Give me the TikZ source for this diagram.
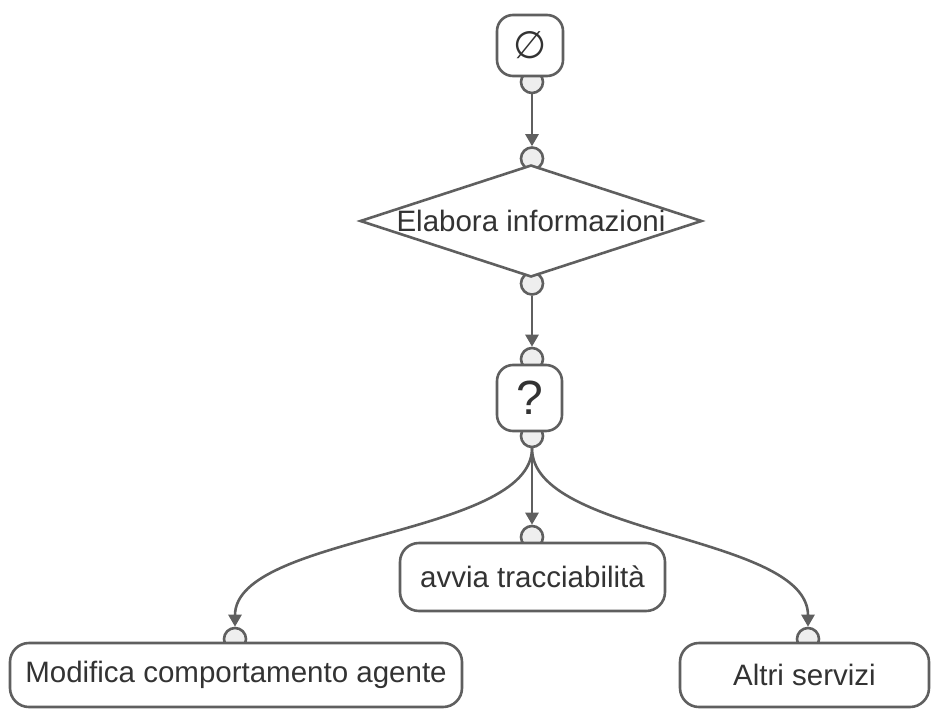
\documentclass[tikz,border=0pt]{standalone}
\usepackage{fontspec}
\setmainfont{Liberation Sans}
\newfontfamily\symfont{DejaVu Sans}
\usetikzlibrary{arrows.meta,shapes.geometric}
\definecolor{edgegray}{HTML}{5F5F5F}
\definecolor{portfill}{HTML}{EEEEEE}
\definecolor{ink}{HTML}{333333}

\begin{document}
\begin{tikzpicture}[x=1pt,y=-1pt,
  labelfont/.style={text=ink, font=\fontsize{29.5}{34}\selectfont},
  box/.style={draw=edgegray, line width=2.6pt, fill=white, rounded corners=19pt,
    inner sep=0pt, labelfont},
  decision/.style={diamond, draw=edgegray, line width=2.6pt, fill=white, inner sep=0pt},
  port/.style={circle, draw=edgegray, fill=portfill, line width=2.6pt,
    minimum size=22pt, inner sep=0pt},
  link/.style={draw=edgegray, line width=2.6pt, -{Triangle[width=13pt,length=12pt]}}
]
\useasboundingbox (0,0) rectangle (931,709);

% connection ports (drawn first, so the shapes partly cover them)
\node[port] (p0) at (532,82) {};
\node[port] (p1) at (532,158.5) {};
\node[port] (p2) at (532,283.5) {};
\node[port] (p3) at (532,359) {};
\node[port] (p4) at (532,436) {};
\node[port] (p5) at (532,537) {};
\node[port] (p6) at (235,639) {};
\node[port] (p7) at (808,639) {};

% shapes
\node[box, rounded corners=16pt, minimum width=66pt, minimum height=61pt]
  (start) at (530,45.5) {\symfont\fontsize{38}{40}\selectfont ∅};
\node[decision, minimum width=342pt, minimum height=112pt,
  label={[labelfont]center:Elabora informazioni}] (elab) at (531,221) {};
\node[box, rounded corners=16pt, minimum width=65pt, minimum height=66pt]
  (choice) at (529.5,398) {\fontsize{48}{50}\selectfont ?};
\node[box, minimum width=265pt, minimum height=68pt] (trace) at (532.5,577)
  {avvia tracciabilità};
\node[box, minimum width=452pt, minimum height=64pt] (agent) at (236,675)
  {Modifica comportamento agente};
\node[box, minimum width=249pt, minimum height=64pt] (other) at (804.5,675)
  {Altri servizi};

% connectors
\draw[link] (p0.south) -- (p1.north);
\draw[link] (p2.south) -- (p3.north);
\draw[link] (p4.south) -- (p5.north);
\draw[link] (p4.south) .. controls +(0,88) and +(0,-92) .. (p6.north);
\draw[link] (p4.south) .. controls +(0,88) and +(0,-92) .. (p7.north);
\end{tikzpicture}
\end{document}
